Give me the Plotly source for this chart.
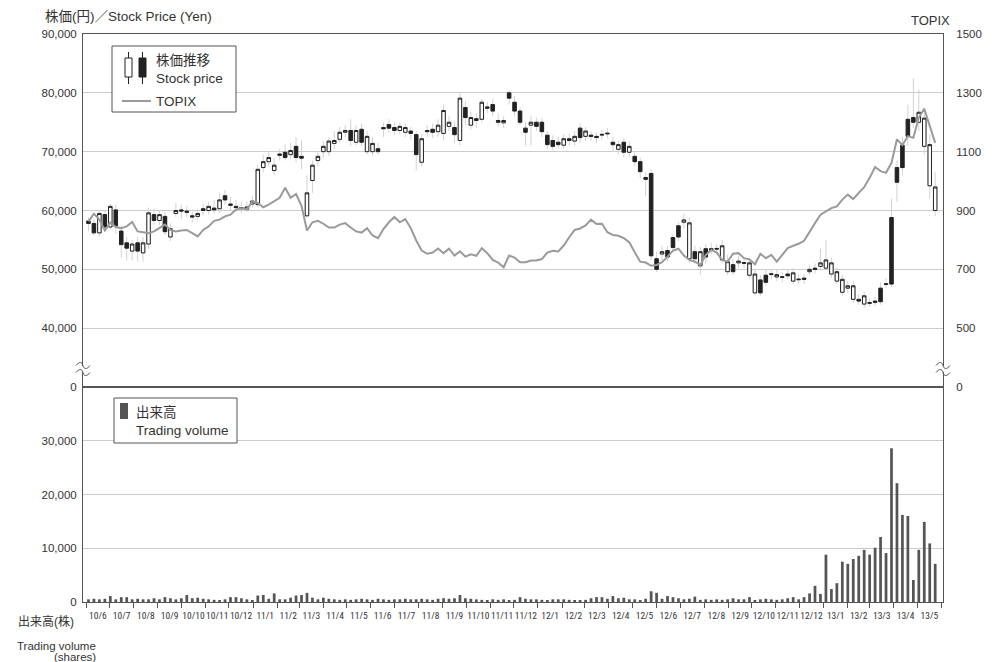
import plotly.graph_objects as go
import pandas as pd

# ---------------- data ----------------
weeks = pd.date_range("2010-06-04", periods=156, freq="7D")

# weekly prices in thousand yen
open_k = [58.2, 57.8, 56.2, 59.3, 57.2, 60.1, 56.5, 54.5, 53.1, 54.5,
          52.8, 54.3, 59.3, 58.3, 59.0, 55.5, 59.5, 60.1, 59.9, 59.1,
          59.0, 60.3, 60.0, 60.4, 60.3, 62.5, 61.1, 60.7, 60.5, 60.2,
          61.1, 61.0, 67.3, 68.3, 66.8, 69.6, 69.9, 69.5, 70.9, 69.2,
          59.1, 65.1, 68.5, 70.0, 70.0, 71.4, 72.1, 73.3, 73.6, 71.6,
          73.8, 70.0, 70.0, 70.5, 74.1, 74.6, 74.1, 73.6, 73.3, 73.5,
          72.9, 68.2, 73.6, 73.8, 73.4, 73.1, 74.3, 74.1, 71.9, 77.5,
          74.5, 75.6, 75.5, 77.6, 78.0, 75.3, 74.9, 80.0, 78.4, 76.9,
          74.0, 74.5, 75.0, 75.0, 72.8, 71.9, 71.6, 71.1, 72.2, 71.8,
          74.0, 72.6, 72.8, 72.6, 72.95, 73.15, 71.6, 70.4, 71.6, 69.9,
          69.2, 68.3, 65.6, 66.3, 51.8, 52.6, 53.2, 55.4, 57.4, 58.0,
          51.8, 53.0, 50.6, 53.5, 53.5, 53.55, 51.6, 49.6, 50.8, 51.1,
          51.15, 49.0, 46.0, 48.2, 49.0, 49.25, 48.7, 48.75, 49.2, 48.0,
          48.35, 48.5, 49.6, 50.2, 50.5, 50.2, 49.2, 48.0, 46.1, 46.8,
          44.9, 44.9, 44.1, 44.35, 44.6, 46.8, 47.55, 58.8, 67.3, 71.1,
          75.5, 75.8, 75.0, 70.9, 64.2, 60.0]
close_k = [57.8, 56.2, 59.5, 57.2, 60.7, 57.4, 54.2, 53.6, 54.3, 53.1,
           54.5, 59.6, 58.3, 59.3, 56.4, 56.9, 60.0, 59.9, 59.7, 58.9,
           59.5, 60.0, 60.7, 60.1, 61.8, 61.8, 60.9, 60.5, 60.3, 60.6,
           61.6, 67.0, 68.3, 69.0, 67.7, 69.4, 69.0, 70.2, 69.0, 68.9,
           63.0, 67.7, 69.2, 70.9, 71.8, 71.9, 73.3, 73.6, 71.9, 73.6,
           71.6, 72.6, 71.4, 70.0, 73.9, 74.0, 73.6, 74.3, 74.1, 73.1,
           69.5, 72.2, 73.4, 73.3, 74.5, 77.0, 75.0, 72.9, 79.1, 75.8,
           75.8, 75.3, 78.4, 77.4, 76.9, 75.0, 75.3, 79.1, 76.9, 75.0,
           73.3, 75.0, 74.3, 73.4, 71.2, 70.9, 71.2, 72.2, 71.9, 72.6,
           72.4, 73.5, 72.6, 72.4, 72.85, 73.05, 71.2, 71.2, 69.9, 70.9,
           68.3, 66.6, 65.3, 52.3, 50.0, 53.0, 52.1, 53.7, 55.5, 58.4,
           57.9, 51.8, 53.0, 52.1, 53.2, 53.45, 54.0, 51.3, 49.6, 51.4,
           51.05, 51.1, 49.2, 46.0, 47.8, 49.15, 49.1, 48.65, 48.9, 49.4,
           48.25, 48.3, 50.0, 50.0, 51.1, 51.6, 51.1, 49.6, 48.3, 47.2,
           47.2, 44.6, 45.5, 44.25, 44.4, 44.5, 47.45, 47.5, 64.8, 67.3,
           72.6, 75.0, 76.7, 75.7, 71.2, 64.0]
high_k = [58.8, 58.5, 60.0, 60.0, 61.2, 61.0, 57.5, 55.5, 55.0, 55.5,
          55.5, 60.5, 60.3, 60.0, 59.8, 57.8, 61.3, 61.0, 60.8, 60.2,
          60.3, 61.2, 61.5, 61.8, 63.0, 63.5, 62.3, 61.8, 61.5, 61.5,
          62.5, 67.8, 69.5, 70.0, 69.0, 70.5, 71.2, 71.5, 72.5, 72.0,
          66.0, 68.5, 70.0, 71.8, 72.5, 73.5, 74.2, 74.5, 75.5, 74.5,
          74.8, 73.5, 72.5, 71.5, 75.0, 75.5, 75.0, 75.0, 74.8, 74.2,
          73.5, 73.0, 74.5, 74.8, 75.5, 78.0, 76.0, 75.0, 80.0, 78.5,
          76.8, 76.5, 79.0, 78.5, 79.0, 76.5, 76.0, 80.5, 79.5, 77.5,
          75.0, 76.0, 75.8, 75.8, 73.5, 72.8, 72.5, 73.0, 73.0, 73.5,
          74.8, 74.2, 73.5, 73.3, 73.8, 74.0, 72.5, 72.0, 72.3, 71.8,
          70.0, 69.0, 66.5, 67.0, 53.0, 54.0, 54.0, 56.0, 58.0, 59.5,
          58.8, 54.0, 53.8, 54.3, 54.5, 54.3, 55.0, 52.5, 51.8, 52.3,
          52.0, 52.0, 50.0, 49.0, 50.0, 50.0, 50.0, 49.5, 50.0, 50.2,
          49.2, 49.2, 50.8, 51.0, 53.5, 55.0, 52.0, 50.3, 49.0, 48.0,
          48.0, 45.8, 46.2, 45.0, 45.3, 47.8, 48.5, 62.0, 68.5, 72.5,
          78.0, 82.5, 80.5, 77.5, 73.0, 66.5]
low_k = [56.5, 55.8, 55.6, 56.5, 56.8, 56.0, 52.0, 51.5, 51.5, 51.3,
         51.3, 53.5, 57.5, 57.5, 55.8, 54.8, 59.0, 58.5, 58.8, 58.0,
         58.3, 59.2, 59.3, 59.5, 59.6, 61.0, 60.0, 59.8, 59.5, 59.8,
         60.5, 60.5, 66.5, 67.5, 66.0, 68.5, 68.5, 68.8, 68.2, 67.0,
         58.8, 63.0, 67.5, 69.0, 69.3, 70.5, 71.5, 72.5, 71.0, 71.0,
         71.0, 69.5, 69.3, 69.5, 72.5, 73.2, 72.8, 73.0, 72.5, 72.0,
         66.8, 67.5, 72.5, 72.3, 72.5, 72.0, 73.5, 71.5, 71.0, 74.5,
         73.8, 74.0, 75.0, 76.5, 76.0, 74.2, 74.0, 78.0, 76.0, 74.5,
         71.0, 71.0, 73.5, 72.5, 70.5, 70.2, 70.5, 70.5, 71.0, 71.0,
         71.5, 71.8, 71.8, 71.5, 72.0, 72.3, 70.0, 69.5, 69.0, 69.0,
         67.5, 65.5, 62.5, 51.5, 49.5, 51.5, 51.3, 53.0, 54.8, 57.0,
         51.0, 51.0, 49.0, 51.0, 52.5, 52.8, 51.0, 49.0, 49.0, 50.3,
         50.2, 48.5, 45.5, 45.5, 47.2, 48.3, 48.0, 47.8, 48.2, 47.5,
         47.5, 47.5, 49.0, 49.3, 50.0, 49.8, 48.5, 47.5, 45.5, 46.0,
         44.3, 44.0, 43.5, 43.6, 43.8, 44.0, 46.8, 47.0, 61.5, 66.0,
         71.0, 74.0, 73.5, 69.5, 62.0, 59.0]

topix = [863, 889, 869, 832, 859, 844, 840, 846, 861, 829,
         826, 823, 829, 840, 852, 834, 829, 832, 834, 823,
         812, 834, 846, 865, 869, 880, 886, 903, 908, 903,
         931, 926, 911, 920, 931, 943, 977, 943, 956, 916,
         832, 860, 865, 855, 842, 842, 852, 857, 842, 829,
         825, 840, 815, 806, 837, 860, 878, 860, 871, 840,
         798, 764, 753, 757, 771, 755, 770, 747, 761, 743,
         751, 746, 772, 755, 732, 723, 707, 747, 740, 724,
         724, 730, 730, 735, 757, 763, 761, 781, 809, 834,
         839, 849, 869, 854, 855, 826, 817, 814, 806, 792,
         758, 726, 723, 712, 715, 724, 743, 764, 770, 747,
         732, 726, 715, 749, 766, 757, 732, 726, 753, 755,
         738, 734, 717, 753, 738, 749, 726, 749, 772, 780,
         787, 797, 829, 857, 886, 897, 908, 914, 937, 954,
         939, 960, 979, 1011, 1048, 1034, 1028, 1062, 1142, 1122,
         1153, 1147, 1216, 1246, 1187, 1130]

volume = [500, 600, 500, 600, 1100, 500, 900, 900, 500, 600,
          500, 500, 700, 500, 900, 700, 500, 700, 1300, 700,
          800, 600, 500, 400, 200, 500, 900, 900, 700, 500,
          300, 1200, 1300, 600, 1600, 500, 500, 800, 1200, 1300,
          1700, 800, 500, 800, 600, 500, 400, 500, 400, 500,
          600, 500, 400, 600, 500, 400, 500, 500, 600, 500,
          500, 600, 500, 400, 600, 700, 600, 700, 1300, 700,
          600, 500, 400, 300, 500, 400, 500, 300, 400, 900,
          600, 500, 500, 400, 300, 500, 500, 500, 400, 300,
          300, 400, 700, 900, 900, 600, 1100, 700, 800, 500,
          500, 300, 600, 2000, 1700, 600, 1100, 900, 700, 500,
          600, 1000, 400, 500, 400, 500, 400, 500, 700, 500,
          500, 900, 300, 500, 600, 500, 400,
          500, 700, 900, 500, 900, 1600, 3000, 1500, 8800, 2400,
          3500, 7500, 7100, 8000, 8600, 9700, 8800, 10100, 12100, 9100,
          28600, 22100, 16200, 16000, 4100, 9700, 14900, 10900, 7100]

price_ticks = [30000, 40000, 50000, 60000, 70000, 80000, 90000]
price_tick_text = ["0", "40,000", "50,000", "60,000", "70,000", "80,000", "90,000"]
topix_ticks = [300, 500, 700, 900, 1100, 1300, 1500]
topix_tick_text = ["0", "500", "700", "900", "1100", "1300", "1500"]
volume_ticks = [0, 10000, 20000, 30000]
volume_tick_text = ["0", "10,000", "20,000", "30,000"]
x_range = ["2010-05-28", "2013-06-03"]

# ---------------- style ----------------
# the page adds an 8px body margin, so the figure is laid out 8px up/left
OFF = 8
W, H = 1000 - OFF, 662 - OFF
L, R, T, B = 83 - OFF, W - (943 - OFF), 34 - OFF, H - (602 - OFF)
PW, PH = W - L - R, H - T - B
SPLIT_Y = 387
vol_frac = (602 - SPLIT_Y) / PH

AX = "#555555"
GRID = "#cccccc"
WICK = "#d2d2d2"
DARK = "#222222"
TXT = "#333333"
FONT = "Liberation Sans, Noto Sans CJK JP, sans-serif"
NARROW = "Roboto Condensed, Liberation Sans Narrow, Arial Narrow, Liberation Sans, sans-serif"


def px(x):
    """reference-screen x pixel -> paper coordinate"""
    return (x - OFF - L) / PW


def py(y):
    """reference-screen y pixel -> paper coordinate"""
    return (H - B - (y - OFF)) / PH


opens = [v * 1000 for v in open_k]
closes = [v * 1000 for v in close_k]
highs = [v * 1000 for v in high_k]
lows = [v * 1000 for v in low_k]
body_hi = [max(o, c) for o, c in zip(opens, closes)]
body_lo = [min(o, c) for o, c in zip(opens, closes)]

fig = go.Figure()
# wicks (light)
fig.add_trace(go.Candlestick(
    x=weeks, open=opens, high=highs, low=lows, close=closes,
    xaxis="x", yaxis="y",
    increasing=dict(line=dict(color=WICK, width=1), fillcolor=WICK),
    decreasing=dict(line=dict(color=WICK, width=1), fillcolor=WICK),
    hoverinfo="skip", showlegend=False))
# bodies
fig.add_trace(go.Candlestick(
    x=weeks, open=opens, high=body_hi, low=body_lo, close=closes,
    xaxis="x", yaxis="y",
    increasing=dict(line=dict(color=DARK, width=1), fillcolor="white"),
    decreasing=dict(line=dict(color=DARK, width=1), fillcolor=DARK),
    hoverinfo="skip", showlegend=False))
# TOPIX
fig.add_trace(go.Scatter(
    x=weeks, y=topix, xaxis="x", yaxis="y3", mode="lines",
    line=dict(color="#9a9a9a", width=2), hoverinfo="skip", showlegend=False))
# volume
fig.add_trace(go.Bar(
    x=weeks, y=volume, xaxis="x2", yaxis="y2",
    marker=dict(color="#555555", line=dict(width=0)),
    hoverinfo="skip", showlegend=False))

fig.update_layout(
    width=W, height=H,
    margin=dict(l=L, r=R, t=T, b=B),
    paper_bgcolor="white", plot_bgcolor="white",
    showlegend=False, bargap=0.5, boxgap=0.2, boxgroupgap=0.2,
    font=dict(family=FONT, size=12, color=TXT),
    xaxis=dict(domain=[0, 1], anchor="y", type="date", range=x_range,
               showticklabels=False, ticks="", showgrid=False, zeroline=False,
               showline=True, mirror=True, linecolor=AX, linewidth=1,
               rangeslider=dict(visible=False)),
    yaxis=dict(domain=[vol_frac, 1], anchor="x", range=[30000, 90000],
               tickvals=price_ticks, ticktext=price_tick_text,
               showgrid=True, gridcolor=GRID, gridwidth=1, zeroline=False,
               showline=True, linecolor=AX, linewidth=1, ticks="",
               tickfont=dict(size=11.5, color=TXT), ticklabelstandoff=3),
    yaxis3=dict(overlaying="y", anchor="x", side="right", range=[300, 1500],
                tickvals=topix_ticks, ticktext=topix_tick_text,
                showgrid=False, zeroline=False, showline=True, linecolor=AX,
                linewidth=1, ticks="", tickfont=dict(size=11.5, color=TXT),
                ticklabelstandoff=10),
    xaxis2=dict(domain=[0, 1], anchor="y2", type="date", range=x_range,
                dtick="M1", tick0="2010-06-01", tickformat="%y/%-m",
                ticklabelmode="period", tickangle=0,
                ticks="outside", ticklen=5, tickcolor=AX, tickwidth=1,
                showgrid=False, zeroline=False, showline=True, mirror=True,
                linecolor=AX, linewidth=1,
                tickfont=dict(family=NARROW, size=9.5, color=TXT)),
    yaxis2=dict(domain=[0, vol_frac], anchor="x2", range=[0, 40000],
                tickvals=volume_ticks, ticktext=volume_tick_text,
                showgrid=True, gridcolor=GRID, gridwidth=1, zeroline=False,
                showline=True, mirror=True, linecolor=AX, linewidth=1,
                ticks="", tickfont=dict(size=11.5, color=TXT),
                ticklabelstandoff=3),
)

shapes = []
# axis break marks (left & right)
for xa in (0, 1):
    base = dict(xref="paper", yref="paper", xsizemode="pixel", ysizemode="pixel",
                xanchor=xa, yanchor=py(369))
    shapes.append(dict(type="path", path="M-3,-3 L3,-3 L3,3 L-3,3 Z",
                       fillcolor="white", line=dict(width=0), **base))
    shapes.append(dict(type="path", path="M-7,3.5 C-4,7.5 -1,7.5 0,3.5 C1,-0.5 4,-0.5 7,3.5",
                       line=dict(color=AX, width=1), **base))
    shapes.append(dict(type="path", path="M-7,-3.5 C-4,0.5 -1,0.5 0,-3.5 C1,-7.5 4,-7.5 7,-3.5",
                       line=dict(color=AX, width=1), **base))

# legend 1 (price)
shapes.append(dict(type="rect", xref="paper", yref="paper",
                   x0=px(112), x1=px(236), y0=py(112), y1=py(46),
                   fillcolor="white", line=dict(color=AX, width=1)))
for cx, fill in ((128.5, "white"), (142.5, DARK)):
    shapes.append(dict(type="line", xref="paper", yref="paper",
                       x0=px(cx), x1=px(cx), y0=py(84), y1=py(52),
                       line=dict(color=DARK, width=1)))
    shapes.append(dict(type="rect", xref="paper", yref="paper",
                       x0=px(cx - 3.5), x1=px(cx + 3.5), y0=py(77), y1=py(58),
                       fillcolor=fill, line=dict(color=DARK, width=1)))
shapes.append(dict(type="line", xref="paper", yref="paper",
                   x0=px(122), x1=px(151), y0=py(101), y1=py(101),
                   line=dict(color="#9a9a9a", width=2)))
# legend 2 (volume)
shapes.append(dict(type="rect", xref="paper", yref="paper",
                   x0=px(114), x1=px(237), y0=py(443), y1=py(398),
                   fillcolor="white", line=dict(color=AX, width=1)))
shapes.append(dict(type="rect", xref="paper", yref="paper",
                   x0=px(120), x1=px(128), y0=py(419), y1=py(403),
                   fillcolor="#555555", line=dict(width=0)))
fig.update_layout(shapes=shapes)


def note(text, x, y, xanchor="left", size=13.5, family=FONT):
    return dict(text=text, xref="paper", yref="paper", x=px(x), y=py(y),
                xanchor=xanchor, yanchor="middle", showarrow=False,
                font=dict(family=family, size=size, color=TXT))


fig.update_layout(annotations=[
    note("株価(円)／Stock Price (Yen)", 43, 17, size=13.5),
    note("TOPIX", 952, 21, xanchor="right", size=13),
    note("株価推移", 154, 60),
    note("Stock price", 154, 78.5),
    note("TOPIX", 154, 101),
    note("出来高", 134, 411.5),
    note("Trading volume", 134, 430.5),
    note("出来高(株)", 16, 621, size=12),
    note("Trading volume", 98, 646, xanchor="right", size=11.5),
    note("(shares)", 98, 657, xanchor="right", size=11.5),
])

fig.write_html("out.html")
